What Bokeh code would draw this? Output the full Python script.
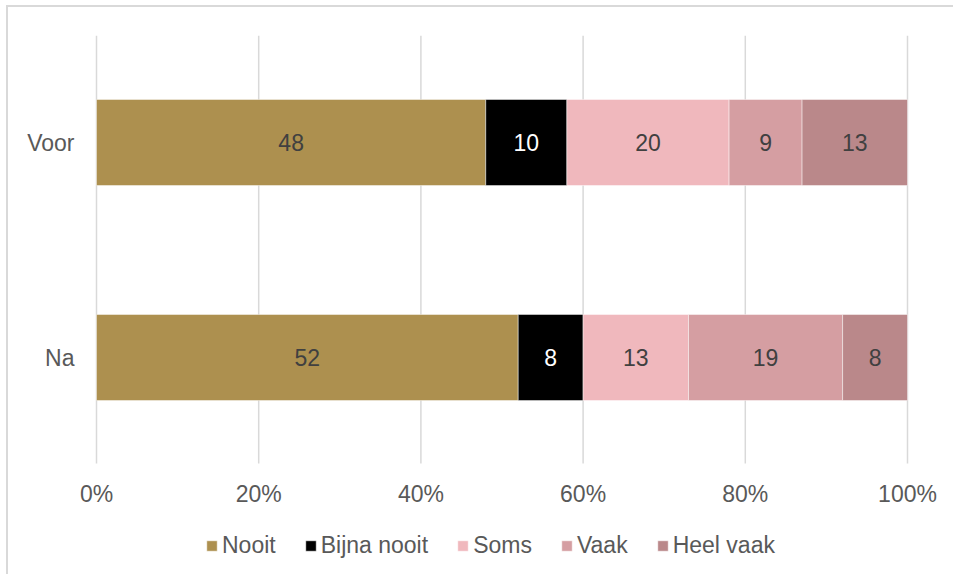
from bokeh.plotting import figure
from bokeh.models import (Legend, LegendItem, FixedTicker, Range1d)
from bokeh.core.properties import value
from bokeh.embed import file_html
from bokeh.resources import INLINE

# ---- data ----
categories = ["Voor", "Na"]
series = ["Nooit", "Bijna nooit", "Soms", "Vaak", "Heel vaak"]
nooit = [48, 52]
bijna_nooit = [10, 8]
soms = [20, 13]
vaak = [9, 19]
heel_vaak = [13, 8]
tick_values = [0, 20, 40, 60, 80, 100]
tick_labels = ["0%", "20%", "40%", "60%", "80%", "100%"]

series_values = [nooit, bijna_nooit, soms, vaak, heel_vaak]
colors = ["#AD904F", "#000000", "#F0B8BD", "#D59EA2", "#BA888A"]
label_colors = ["#404040", "#FFFFFF", "#404040", "#404040", "#404040"]

FONT = "Liberation Sans"
W, H = 947, 569
ox, oy = 8, 7  # canvas origin on page

# layout (pixels on page)
frame_left, frame_right = 78, 945
x0_px, x100_px = 96, 907
ppu = (x100_px - x0_px) / 100.0
x_lo = (frame_left - x0_px) / ppu
x_hi = (frame_right - x0_px) / ppu

cat_pos = [len(categories) - 1 - i for i in range(len(categories))]
band = 215.0
y_top = (357 - 35) / band
y_bot = (357 - (oy + H)) / band
grid_bottom = -0.493
tick_label_y = -0.633

p = figure(width=W, height=H, output_backend="svg", toolbar_location=None,
           x_range=Range1d(x_lo, x_hi), y_range=Range1d(y_bot, y_top),
           x_axis_location=None,
           min_border_left=frame_left - ox, min_border_right=(ox + W) - frame_right,
           min_border_top=35 - oy, min_border_bottom=0)
p.styles = {"margin-left": "6px", "margin-top": "5px",
            "border-top": "2px solid #d9d9d9", "border-left": "2px solid #d9d9d9"}
p.outline_line_color = None
p.background_fill_color = "white"
p.border_fill_color = "white"
p.xgrid.grid_line_color = None
p.ygrid.grid_line_color = None

# vertical gridlines
p.segment(x0=tick_values, x1=tick_values,
          y0=[grid_bottom] * len(tick_values), y1=[y_top] * len(tick_values),
          line_color="#d9d9d9", line_width=1.5)

# x tick labels
p.text(x=tick_values, y=[tick_label_y] * len(tick_values), text=tick_labels,
       text_font=value(FONT), text_font_size="23px", text_color="#595959",
       text_align="center", text_baseline="middle")

ax = p.yaxis[0]
ax.ticker = FixedTicker(ticks=cat_pos)
ax.major_label_overrides = {pos: c for pos, c in zip(cat_pos, categories)}
ax.axis_line_color = None
ax.major_tick_line_color = None
ax.minor_tick_line_color = None
ax.major_tick_out = 0
ax.major_tick_in = 0
ax.major_label_text_font = FONT
ax.major_label_text_font_size = "23px"
ax.major_label_text_color = "#595959"
ax.major_label_standoff = 4

items = []
left = [0, 0]
for name, vals, col, lcol in zip(series, series_values, colors, label_colors):
    right = [l + v for l, v in zip(left, vals)]
    r = p.hbar(y=cat_pos, left=left, right=right, height=0.4,
               fill_color=col, line_color="white", line_width=0.75, line_alpha=0.6)
    mids = [(l + rr) / 2 for l, rr in zip(left, right)]
    p.text(x=mids, y=cat_pos, text=[str(v) for v in vals],
           text_font=value(FONT), text_font_size="23px", text_color=lcol,
           text_align="center", text_baseline="middle")
    items.append(LegendItem(label=name, renderers=[r]))
    left = right

legend = Legend(items=items, orientation="horizontal", location=(205 - frame_left, 17),
                glyph_width=13, glyph_height=13, label_standoff=4, spacing=28,
                padding=0, margin=0, border_line_alpha=0, background_fill_alpha=0,
                label_text_font=FONT, label_text_font_size="23px",
                label_text_color="#595959")
p.add_layout(legend, "center")

open("out.html", "w").write(file_html(p, INLINE))
